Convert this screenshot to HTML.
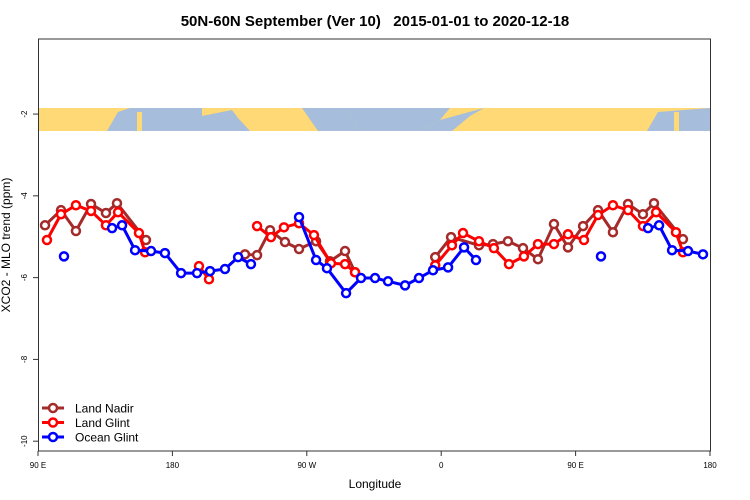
<!DOCTYPE html>
<html><head><meta charset="utf-8"><style>
html,body{margin:0;padding:0;background:#fff;}
svg{display:block;font-family:"Liberation Sans",sans-serif;}
</style></head><body>
<svg id="chart" width="750" height="500" xmlns="http://www.w3.org/2000/svg">
<text x="375" y="26" text-anchor="middle" font-size="15" font-weight="bold" style="white-space:pre">50N-60N September (Ver 10)   2015-01-01 to 2020-12-18</text>
<g id="band"></g>
<g id="plot"></g>
<rect x="38.5" y="39" width="672" height="412" fill="none" stroke="#333" stroke-width="1"/>
<g id="axes"></g>
<text x="375" y="488" text-anchor="middle" font-size="12">Longitude</text>
<text transform="translate(10,245) rotate(-90)" text-anchor="middle" font-size="12">XCO2 - MLO trend (ppm)</text>
<g id="legend"></g>
</svg>
<script>
const xTicks=[90,180,270,360,450,540];
const xTickLabels=["90 E","180","90 W","0","90 E","180"];
const yTicks=[-2,-4,-6,-8,-10];
const seriesNames=["Land Nadir","Land Glint","Ocean Glint"];
const seriesColors=["#a52a2a","#ff0000","#0000ff"];
const nadirLon=[94.7,105.4,115.4,125.5,135.5,142.9,162.3,null,228.6,236.7,245.4,255.4,264.8,276.2,285.5,295.6,302.3,null,356,366.6,385.3,394.7,404.7,414.8,424.8,435.5,444.9,455,465,475,485.1,495.1,502.5,521.9];
const nadirVal=[-4.72,-4.35,-4.86,-4.20,-4.42,-4.18,-5.08,null,-5.43,-5.45,-4.84,-5.13,-5.30,-5.11,-5.6,-5.35,-5.87,null,-5.50,-5.01,-5.21,-5.18,-5.11,-5.28,-5.55,-4.69,-5.26,-4.74,-4.35,-4.89,-4.20,-4.45,-4.18,-5.06];
const glintLon=[96,105.4,115.4,125.5,135.5,143.6,157.6,161.7,null,197.8,204.5,null,236.7,246,254.7,264.8,274.8,286.2,295.6,302.3,null,356,367.2,374.6,385.3,395.3,405.4,415.4,424.8,435.5,444.9,455.6,465,475,485.1,495.1,503.9,517.2,521.9];
const glintVal=[-5.08,-4.45,-4.23,-4.37,-4.72,-4.40,-4.91,-5.38,null,-5.72,-6.04,null,-4.74,-5.01,-4.77,-4.67,-4.96,-5.65,-5.67,-5.87,null,-5.70,-5.21,-4.91,-5.11,-5.28,-5.67,-5.48,-5.18,-5.18,-4.94,-5.08,-4.47,-4.23,-4.35,-4.74,-4.40,-4.89,-5.38];
const oceanLon=[107.4,null,139.6,146.3,155,165.7,175,185.8,196.5,205.2,215.2,224,232.6,null,264.8,276.2,283.5,296.3,306.3,315.7,324.4,335.8,345.1,354.5,364.6,375.3,383.3,null,467,null,498.5,505.9,514.6,525.3,535.3];
const oceanVal=[-5.48,null,-4.79,-4.72,-5.33,-5.35,-5.40,-5.89,-5.89,-5.84,-5.79,-5.50,-5.67,null,-4.52,-5.57,-5.77,-6.38,-6.01,-6.01,-6.09,-6.19,-6.01,-5.82,-5.75,-5.26,-5.57,null,-5.48,null,-4.79,-4.72,-5.33,-5.35,-5.43];
const NS="http://www.w3.org/2000/svg";
const X0=38,X1=710,Y0=38,Y1=451,LMIN=90,LMAX=540,VMAX=-0.14,VMIN=-10.24;
const sx=l=>X0+(l-LMIN)/(LMAX-LMIN)*(X1-X0);
const sy=v=>Y0+(VMAX-v)/(VMAX-VMIN)*(Y1-Y0);
function mk(tag,attrs,parent){const e=document.createElementNS(NS,tag);for(const k in attrs)e.setAttribute(k,attrs[k]);parent.appendChild(e);return e;}
const band=document.getElementById('band');
mk('rect',{x:38,y:108,width:672,height:23,fill:'#fed976'},band);
const blues=[[107,131,118,112,130,108,202,108,202,131],[202,131,202,116,232,110,238,118,250,131],[302,108,346,108,360,131,318,131],[346,108,450,108,440,120,420,131,360,131],[440,120,484,108,470,116,452,131,420,131],[647,131,658,112,710,108,710,131]];
blues.forEach(p=>{const pts=[];for(let i=0;i<p.length;i+=2)pts.push(p[i]+','+p[i+1]);mk('polygon',{points:pts.join(' '),fill:'#a6bddb'},band);});
mk('rect',{x:137,y:112,width:5,height:19,fill:'#fed976'},band);
mk('rect',{x:674,y:112,width:5,height:19,fill:'#fed976'},band);
const ax=document.getElementById('axes');
xTicks.forEach((t,i)=>{
  const l=mk('line',{x1:sx(t),x2:sx(t),y1:Y1,y2:Y1+5,stroke:'#333'},ax);
  
  
  const tx=mk('text',{x:sx(t),y:468,'text-anchor':'middle','font-size':'8'},ax);
  tx.textContent=xTickLabels[i];
  
  
});
yTicks.forEach(t=>{
  const l=mk('line',{x1:X0-5,x2:X0,y1:sy(t),y2:sy(t),stroke:'#333'},ax);
  
  
  const tx=mk('text',{transform:`translate(27,${sy(t)}) rotate(-90)`,'text-anchor':'middle','font-size':'8'},ax);
  tx.textContent=String(t);
  
  
});
const plot=document.getElementById('plot');
const all=[[nadirLon,nadirVal],[glintLon,glintVal],[oceanLon,oceanVal]];
all.forEach((s,si)=>{
  const g=mk('g',{},plot);
  
  
  let seg=[];const segs=[];
  s[0].forEach((l,i)=>{if(l===null){if(seg.length)segs.push(seg);seg=[];}else seg.push([sx(l),sy(s[1][i])]);});
  if(seg.length)segs.push(seg);
  segs.forEach(sg=>{if(sg.length>1){const p=mk('polyline',{points:sg.map(q=>q.join(',')).join(' '),fill:'none',stroke:seriesColors[si],'stroke-width':3},g);
    
    }});
  segs.flat().forEach(q=>{const c=mk('circle',{cx:q[0],cy:q[1],r:4,fill:'#fff',stroke:seriesColors[si],'stroke-width':2.5},g);
    
    });
});
const lg=document.getElementById('legend');
seriesNames.forEach((n,i)=>{
  const y=408+i*14.5;
  const g=mk('g',{},lg);
  
  
  mk('line',{x1:42,x2:64,y1:y,y2:y,stroke:seriesColors[i],'stroke-width':3},g);
  mk('circle',{cx:53,cy:y,r:4,fill:'#fff',stroke:seriesColors[i],'stroke-width':2.5},g);
  const t=mk('text',{x:75,y:y+4.5,'font-size':'12'},g);
  t.textContent=n;
});
</script>
</body></html>
